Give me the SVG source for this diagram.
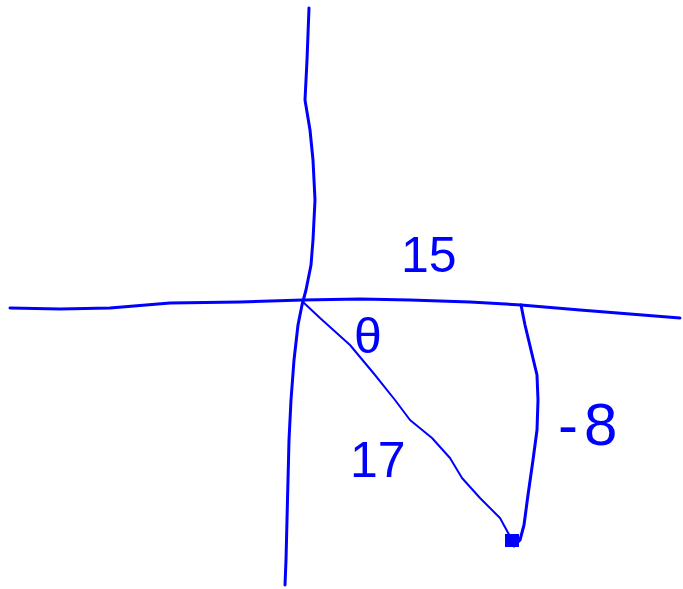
<svg xmlns="http://www.w3.org/2000/svg" width="683" height="589" viewBox="0 0 683 589">
<style>
.ln{fill:none;stroke:#0000ff;stroke-linecap:round;stroke-linejoin:round}
.ax{stroke-width:3}
.th{stroke-width:2}
.lb{fill:#0000ff;font-family:"Liberation Sans",Arial,sans-serif}
</style>
<rect width="683" height="589" fill="#fff"/>
<g id="axes">
<path class="ln ax" d="M309,8 L307,60 L305,100 L310,130 L313,160 L315,200 L313,240 L311,265 L306,290 L302,305 L298,325 L294,360 L291,400 L289,440 L288,480 L287,520 L286,560 L285,585"/>
<path class="ln ax" d="M10,308 L60,309 L110,308 L170,303 L240,302 L303,300 L360,299 L410,300 L470,302 L521,305 L580,310 L630,314 L680,318"/>
</g>
<g id="triangle">
<path class="ln th" d="M303,302 L320,318 L350,345 L375,375 L395,400 L410,420 L432,438 L450,458 L462,478 L480,498 L500,518 L512,540"/>
<path class="ln ax" d="M521,305 L525,325 L531,350 L537,375 L538,400 L537,430 L533,460 L528,495 L524,525 L520,540 L514,546"/>
<rect x="505" y="534" width="14" height="13" fill="#0000ff"/>
</g>
<g id="labels">
<text class="lb" x="401" y="272" font-size="50">15</text>
<text class="lb" x="354" y="353" font-size="50">θ</text>
<text class="lb" x="350" y="477" font-size="50">17</text>
<text class="lb" x="558" y="445" font-size="60" letter-spacing="6">-8</text>
</g>
</svg>
